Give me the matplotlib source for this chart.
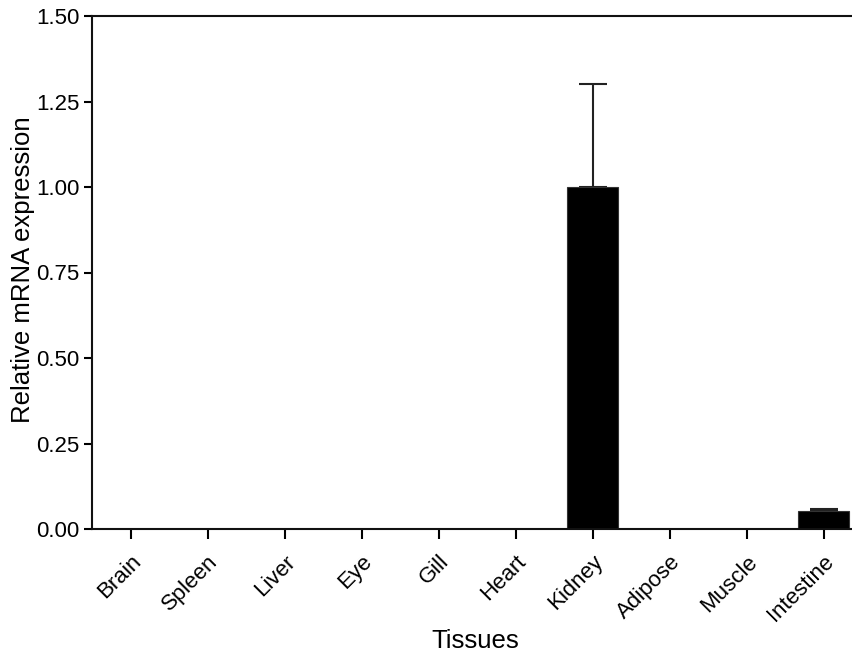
import matplotlib
matplotlib.use("Agg")
import matplotlib.pyplot as plt
import numpy as np

tissues = ["Brain", "Spleen", "Liver", "Eye", "Gill", "Heart", "Kidney", "Adipose", "Muscle", "Intestine"]
expression = [0.0, 0.0, 0.0, 0.0, 0.0, 0.0, 1.0, 0.0, 0.0, 0.053]
errors = [0.0, 0.0, 0.0, 0.0, 0.0, 0.0, 0.30, 0.0, 0.0, 0.005]
yticks = [0.00, 0.25, 0.50, 0.75, 1.00, 1.25, 1.50]

plt.rcParams['font.family'] = ['Liberation Sans', 'DejaVu Sans']

fig = plt.figure(figsize=(8.52, 6.55), dpi=100)
W, H = 852, 655
left, right, top, bottom = 92, 862, 16, 529
ax = fig.add_axes([left / W, (H - bottom) / H, (right - left) / W, (bottom - top) / H])

x = np.arange(len(tissues))
ax.bar(x, expression, width=0.667, color="black", edgecolor="#333333", linewidth=0.8, zorder=2)
mask = np.array(errors) > 0
ax.errorbar(x[mask], np.array(expression)[mask],
            yerr=[np.zeros(mask.sum()), np.array(errors)[mask]],
            fmt="none", ecolor="#222222", elinewidth=1.5, capsize=10, capthick=1.5, zorder=1)

ax.set_xlim(-0.5, len(tissues) - 0.5)
ax.set_ylim(0, 1.5)
ax.set_yticks(yticks)
ax.set_yticklabels([f"{v:.2f}" for v in yticks], fontsize=16)
ax.set_xticks(x)
ax.set_xticklabels(tissues, rotation=45, ha="right", rotation_mode="anchor", fontsize=16)

for s in ["left", "bottom", "top"]:
    ax.spines[s].set_linewidth(1.5)
    ax.spines[s].set_color("#111111")
ax.spines["right"].set_visible(False)
ax.tick_params(axis="y", direction="out", length=6, width=1.5, pad=3)
ax.tick_params(axis="x", direction="out", length=7, width=1.5, pad=9)

ax.set_ylabel("Relative mRNA expression", fontsize=18.5)
ax.set_xlabel("Tissues", fontsize=18.5)
ax.yaxis.set_label_coords(23 / W, (H - 270) / H, transform=fig.transFigure)
ax.yaxis.label.set_va("center")
ax.xaxis.set_label_coords(475 / W, (H - 641) / H, transform=fig.transFigure)
ax.xaxis.label.set_va("center")

fig.savefig("out.png", dpi=100)
